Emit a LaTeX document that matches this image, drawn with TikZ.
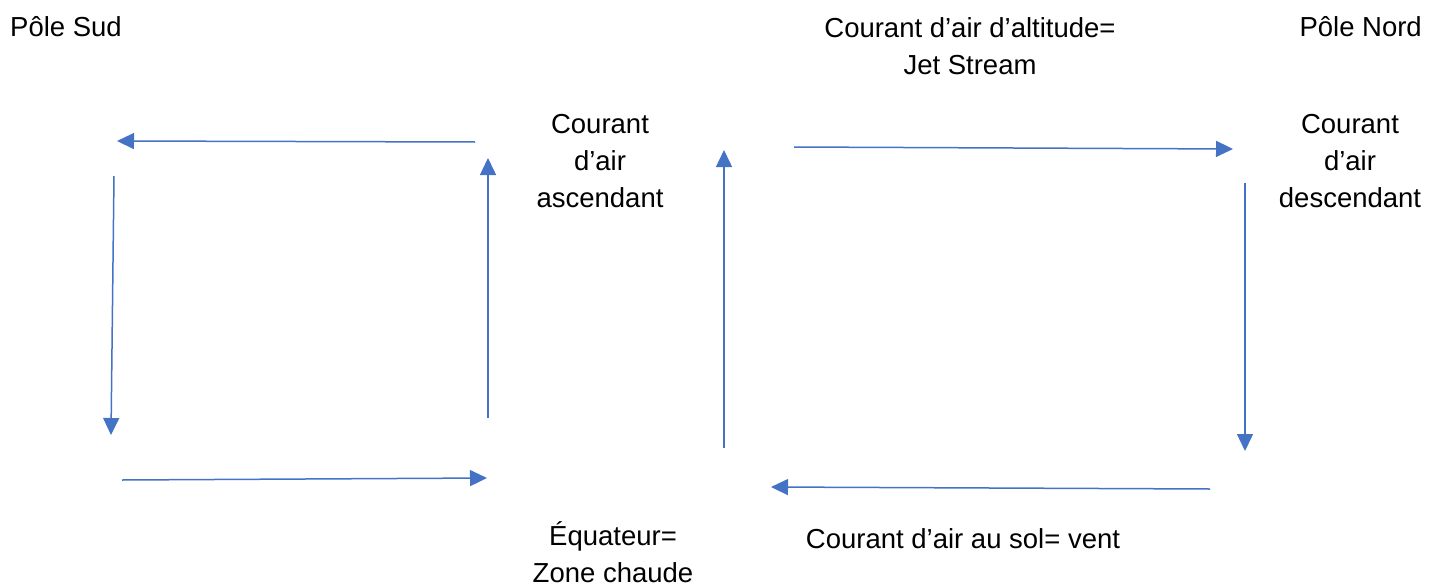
\documentclass[tikz,border=0pt]{standalone}
\usepackage{fontspec}
\setmainfont{Liberation Sans}
\usetikzlibrary{arrows.meta}
\definecolor{arrowblue}{HTML}{4472C4}
\begin{document}
\begin{tikzpicture}[x=1pt,y=-1pt,
  flow/.style={draw=arrowblue,line width=1.5pt,-{Triangle[length=17pt,width=16pt]}},
  lbl/.style={font=\fontsize{27.5}{37}\selectfont,align=center,inner sep=0pt}]
\useasboundingbox (0,0) rectangle (1439,586);
% labels
\node[lbl,anchor=west] (sud) at (10,27) {Pôle Sud};
\node[lbl,anchor=east] (nord) at (1422,27) {Pôle Nord};
\node[lbl] (jet) at (970,46) {Courant d’air d’altitude=\\Jet Stream};
\node[lbl] (asc) at (600,161) {Courant\\d’air\\ascendant};
\node[lbl] (desc) at (1350,161) {Courant\\d’air\\descendant};
\node[lbl] (equ) at (613,552) {Équateur=\\Zone chaude};
\node[lbl] (sol) at (963,539) {Courant d’air au sol= vent};
% arrow end points
\coordinate (a1s) at (475,142); \coordinate (a1e) at (117,141);
\coordinate (a2s) at (114,176); \coordinate (a2e) at (111,435);
\coordinate (a3s) at (122,480); \coordinate (a3e) at (487,478);
\coordinate (a4s) at (488,418); \coordinate (a4e) at (488,158);
\coordinate (a5s) at (724,448); \coordinate (a5e) at (724,150);
\coordinate (a6s) at (794,147); \coordinate (a6e) at (1233,149);
\coordinate (a7s) at (1245,183); \coordinate (a7e) at (1245,451);
\coordinate (a8s) at (1210,489); \coordinate (a8e) at (771,487);
\draw[flow] (a1s) -- (a1e);
\draw[flow] (a2s) -- (a2e);
\draw[flow] (a3s) -- (a3e);
\draw[flow] (a4s) -- (a4e);
\draw[flow] (a5s) -- (a5e);
\draw[flow] (a6s) -- (a6e);
\draw[flow] (a7s) -- (a7e);
\draw[flow] (a8s) -- (a8e);
\end{tikzpicture}
\end{document}
